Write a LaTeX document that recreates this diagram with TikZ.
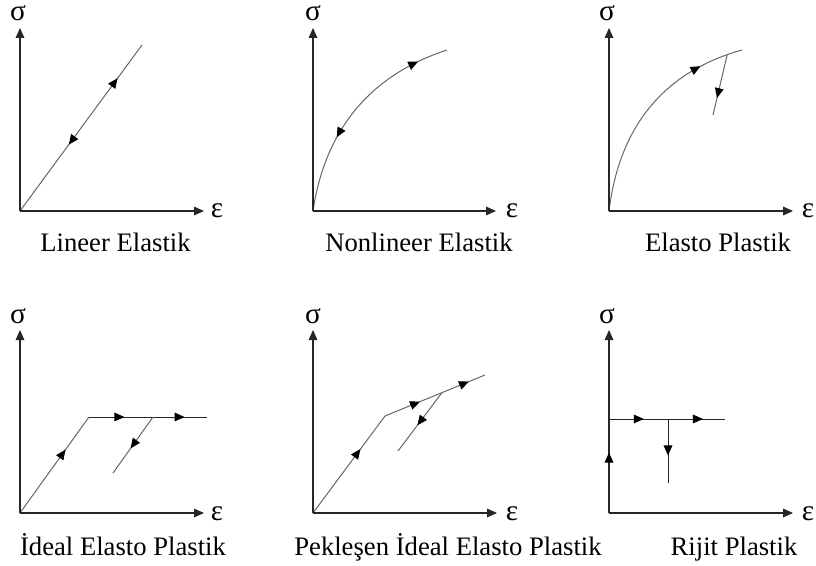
\documentclass[tikz,border=0pt]{standalone}
\usepackage{fontspec}
\setmainfont{Liberation Serif}
\usetikzlibrary{arrows.meta,decorations.markings}
\begin{document}
\begin{tikzpicture}[x=0.75pt,y=-0.75pt,
  axis/.style={draw=black!85,line width=0.85pt,-{Triangle[length=7.5pt,width=6.5pt]}},
  crv/.style={draw=black!60,line width=0.75pt},
  fw/.style={postaction={decorate,decoration={markings,mark=at position #1 with {\arrow[black]{Triangle[length=7.5pt,width=6.5pt]}}}}},
  bw/.style={postaction={decorate,decoration={markings,mark=at position #1 with {\arrowreversed[black]{Triangle[length=7.5pt,width=6.5pt]}}}}},
  lbl/.style={anchor=base,inner sep=0pt,font=\fontsize{20}{24}\selectfont},
  grk/.style={anchor=base,inner sep=0pt,font=\fontsize{22}{26}\selectfont},
]
\useasboundingbox (0,0) rectangle (816,566);

% Panel 1: Lineer Elastik
\coordinate (o1) at (20,211); \coordinate (y1) at (20,28); \coordinate (x1) at (204,211);
\coordinate (a1) at (142,45);
\draw[crv,fw=0.8,bw=0.4] (o1) -- (a1);
\draw[axis] (o1) -- (y1); \draw[axis] (o1) -- (x1);
\node[grk] (s1) at (18,21) {σ}; \node[grk] (e1) at (217,218) {ε};
\node[lbl] (t1) at (115.5,252) {Lineer Elastik};

% Panel 2: Nonlineer Elastik
\coordinate (o2) at (313,211); \coordinate (y2) at (313,28); \coordinate (x2) at (496,211);
\coordinate (a2) at (447,50);
\draw[crv,fw=0.86,bw=0.35] (o2) .. controls (325,130) and (370,75) .. (a2);
\draw[axis] (o2) -- (y2); \draw[axis] (o2) -- (x2);
\node[grk] (s2) at (313,21) {σ}; \node[grk] (e2) at (512,218) {ε};
\node[lbl] (t2) at (419,252) {Nonlineer Elastik};

% Panel 3: Elasto Plastik
\coordinate (o3) at (609,211); \coordinate (y3) at (609,28); \coordinate (x3) at (793,211);
\coordinate (a3) at (742,50); \coordinate (u3a) at (727.2,54.7); \coordinate (u3b) at (713,115);
\draw[crv,fw=0.8] (o3) .. controls (620,120) and (670,70) .. (a3);
\draw[crv,fw=0.72] (u3a) -- (u3b);
\draw[axis] (o3) -- (y3); \draw[axis] (o3) -- (x3);
\node[grk] (s3) at (607,21) {σ}; \node[grk] (e3) at (808,218) {ε};
\node[lbl] (t3) at (718,252) {Elasto Plastik};

% Panel 4: Ideal Elasto Plastik
\coordinate (o4) at (20,513); \coordinate (y4) at (20,330); \coordinate (x4) at (204,513);
\coordinate (k4) at (89,417); \coordinate (h4) at (207,417);
\coordinate (u4a) at (153,417); \coordinate (u4b) at (113,473);
\draw[crv,fw=0.66] (o4) -- (k4);
\draw[crv,draw=black!85,fw=0.3,fw=0.81] (k4) -- (h4);
\draw[crv,fw=0.56] (u4a) -- (u4b);
\draw[axis] (o4) -- (y4); \draw[axis] (o4) -- (x4);
\node[grk] (s4) at (18,323) {σ}; \node[grk] (e4) at (217,520) {ε};
\node[lbl] (t4) at (123,555) {İdeal Elasto Plastik};

% Panel 5: Peklesen Ideal Elasto Plastik
\coordinate (o5) at (313,513); \coordinate (y5) at (313,330); \coordinate (x5) at (497,513);
\coordinate (k5) at (385,416); \coordinate (e5p) at (485,375);
\coordinate (u5a) at (442,392.6); \coordinate (u5b) at (398,451);
\draw[crv,fw=0.66] (o5) -- (k5);
\draw[crv,fw=0.35,fw=0.84] (k5) -- (e5p);
\draw[crv,fw=0.56] (u5a) -- (u5b);
\draw[axis] (o5) -- (y5); \draw[axis] (o5) -- (x5);
\node[grk] (s5) at (313,323) {σ}; \node[grk] (e5) at (512,520) {ε};
\node[lbl] (t5) at (448,555) {Pekleşen İdeal Elasto Plastik};

% Panel 6: Rijit Plastik
\coordinate (o6) at (609,513); \coordinate (y6) at (609,330); \coordinate (x6) at (793,513);
\coordinate (h6a) at (609,419); \coordinate (h6b) at (725,419);
\coordinate (v6a) at (668,419); \coordinate (v6b) at (668,483);
\draw[crv,draw=black!85,fw=0.3,fw=0.81] (h6a) -- (h6b);
\draw[crv,draw=black!85,fw=0.57] (v6a) -- (v6b);
\draw[axis,fw=0.33] (o6) -- (y6); \draw[axis] (o6) -- (x6);
\node[grk] (s6) at (607,323) {σ}; \node[grk] (e6) at (808,520) {ε};
\node[lbl] (t6) at (734,555) {Rijit Plastik};
\end{tikzpicture}
\end{document}
